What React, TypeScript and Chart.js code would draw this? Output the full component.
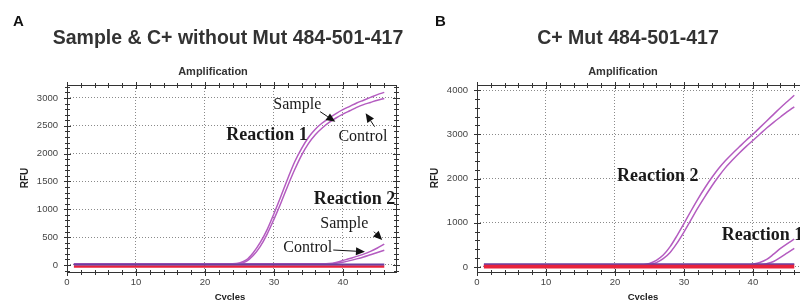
import React, { useEffect, useRef } from 'react';
import { Chart, registerables } from 'chart.js';
Chart.register(...registerables);

// ---------- data ----------
const cycles = [1, 2, 3, 4, 5, 6, 7, 8, 9, 10, 11, 12, 13, 14, 15, 16, 17, 18, 19, 20, 21, 22, 23, 24, 25, 26, 27, 28, 29, 30, 31, 32, 33, 34, 35, 36, 37, 38, 39, 40, 41, 42, 43, 44, 45, 46];
const baselineCycles = [1, 46];

// Panel A
const aR1Sample = [20, 20, 20, 20, 20, 20, 20, 20, 20, 20, 20, 20, 20, 20, 20, 20, 20, 20, 20, 20, 20, 20, 20, 20, 35, 90, 220, 400, 630, 920, 1230, 1550, 1850, 2090, 2290, 2440, 2550, 2640, 2720, 2790, 2850, 2910, 2960, 3010, 3060, 3100];
const aR1Control = [15, 15, 15, 15, 15, 15, 15, 15, 15, 15, 15, 15, 15, 15, 15, 15, 15, 15, 15, 15, 15, 15, 15, 15, 25, 65, 170, 330, 550, 820, 1110, 1420, 1710, 1970, 2180, 2340, 2460, 2560, 2640, 2710, 2770, 2830, 2880, 2920, 2960, 2990];
const aR2Sample = [20, 20, 20, 20, 20, 20, 20, 20, 20, 20, 20, 20, 20, 20, 20, 20, 20, 20, 20, 20, 20, 20, 20, 20, 20, 20, 20, 20, 20, 20, 20, 20, 20, 20, 20, 20, 20, 25, 45, 80, 115, 155, 195, 245, 305, 375];
const aR2Control = [15, 15, 15, 15, 15, 15, 15, 15, 15, 15, 15, 15, 15, 15, 15, 15, 15, 15, 15, 15, 15, 15, 15, 15, 15, 15, 15, 15, 15, 15, 15, 15, 15, 15, 15, 15, 15, 18, 30, 50, 78, 110, 145, 185, 225, 265];
const aBaseRed = [-25, -25];
const aBasePurple = [10, 10];

// Panel B
const bR2Upper = [30, 30, 30, 30, 30, 30, 30, 30, 30, 30, 30, 30, 30, 30, 30, 30, 30, 30, 30, 30, 30, 30, 30, 45, 80, 150, 270, 460, 710, 980, 1260, 1530, 1780, 2010, 2220, 2400, 2560, 2710, 2860, 3000, 3150, 3300, 3450, 3600, 3740, 3880];
const bR2Lower = [25, 25, 25, 25, 25, 25, 25, 25, 25, 25, 25, 25, 25, 25, 25, 25, 25, 25, 25, 25, 25, 25, 25, 25, 50, 100, 190, 330, 540, 790, 1060, 1330, 1580, 1820, 2040, 2240, 2410, 2570, 2720, 2860, 3000, 3140, 3270, 3390, 3510, 3620];
const bR1Upper = [30, 30, 30, 30, 30, 30, 30, 30, 30, 30, 30, 30, 30, 30, 30, 30, 30, 30, 30, 30, 30, 30, 30, 30, 30, 30, 30, 30, 30, 30, 30, 30, 30, 30, 30, 30, 30, 35, 45, 65, 100, 170, 290, 420, 530, 630];
const bR1Lower = [25, 25, 25, 25, 25, 25, 25, 25, 25, 25, 25, 25, 25, 25, 25, 25, 25, 25, 25, 25, 25, 25, 25, 25, 25, 25, 25, 25, 25, 25, 25, 25, 25, 25, 25, 25, 25, 25, 25, 30, 45, 75, 125, 220, 320, 420];
const bBaseRed = [15, 15];
const bBasePurple = [70, 70];

// tick labels
const xTicks = [0, 10, 20, 30, 40];
const aYTicks = [0, 500, 1000, 1500, 2000, 2500, 3000];
const bYTicks = [0, 1000, 2000, 3000, 4000];
const xMinorStep = 2;
const aYMinorStep = 100;
const bYMinorStep = 200;

// annotations (data coordinates)
type Label = { text: string; x: number; y: number; bold: boolean; size: number; align: CanvasTextAlign };
type Arrow = { x1: number; y1: number; x2: number; y2: number };

const aLabels: Label[] = [
  { text: 'Sample', x: 33.4, y: 2874, bold: false, size: 16, align: 'center' },
  { text: 'Reaction 1', x: 29.0, y: 2335, bold: true, size: 18, align: 'center' },
  { text: 'Control', x: 42.9, y: 2294, bold: false, size: 16, align: 'center' },
  { text: 'Reaction 2', x: 41.7, y: 1186, bold: true, size: 18, align: 'center' },
  { text: 'Sample', x: 40.2, y: 737, bold: false, size: 16, align: 'center' },
  { text: 'Control', x: 34.9, y: 300, bold: false, size: 16, align: 'center' },
];
const aArrows: Arrow[] = [
  { x1: 36.7, y1: 2754, x2: 38.9, y2: 2574 },
  { x1: 44.6, y1: 2484, x2: 43.3, y2: 2725 },
  { x1: 44.5, y1: 598, x2: 45.7, y2: 449 },
  { x1: 38.6, y1: 269, x2: 43.2, y2: 239 },
];
const bLabels: Label[] = [
  { text: 'Reaction 2', x: 26.2, y: 2041, bold: true, size: 18, align: 'center' },
  { text: 'Reaction 1', x: 35.5, y: 723, bold: true, size: 18, align: 'left' },
];
const bArrows: Arrow[] = [];

// ---------- drawing ----------
const CURVE = '#b45cc0';
const RED = '#e8223c';
const VIOLET = '#6b3fa0';
const SANS = '"Liberation Sans", Arial, Helvetica, sans-serif';
const SERIF = '"Liberation Serif", "Times New Roman", serif';

function pts(xs: number[], ys: number[]) {
  return xs.map((x, i) => ({ x, y: ys[i] }));
}

type PanelCfg = {
  letter: string;
  letterX: number;
  title: string;
  titleX: number;
  subX: number;
  rfuX: number;
  cyclesX: number;
  yMin: number;
  yMax: number;
  yTicks: number[];
  yMinor: number;
  xMax: number;
  width: number;
  padRight: number;
  yAxisWidth: number;
  labels: Label[];
  arrows: Arrow[];
  datasets: any[];
};

function decorPlugin(cfg: PanelCfg) {
  return {
    id: 'decor',
    afterDraw(chart: any) {
      const ctx: CanvasRenderingContext2D = chart.ctx;
      const { left, right, top, bottom } = chart.chartArea;
      const xs = chart.scales.x;
      const ys = chart.scales.y;
      ctx.save();
      // header
      ctx.fillStyle = '#111';
      ctx.textAlign = 'left';
      ctx.textBaseline = 'alphabetic';
      ctx.font = `bold 15px ${SANS}`;
      ctx.fillText(cfg.letter, cfg.letterX, 26);
      ctx.fillStyle = '#333';
      ctx.textAlign = 'center';
      ctx.font = `bold 19.5px ${SANS}`;
      ctx.fillText(cfg.title, cfg.titleX, 43.5);
      ctx.font = `bold 11px ${SANS}`;
      ctx.fillText('Amplification', cfg.subX, 74.5);

      // border box
      ctx.strokeStyle = '#333';
      ctx.lineWidth = 1;
      ctx.strokeRect(Math.round(left) + 0.5, Math.round(top) + 0.5, Math.round(right - left), Math.round(bottom - top));

      // ticks (major + minor, on all four sides)
      ctx.beginPath();
      for (let v = 0; v <= cfg.xMax + 1e-9; v += xMinorStep) {
        const px = Math.round(xs.getPixelForValue(v)) + 0.5;
        const major = xTicks.includes(v);
        const l = major ? 3 : 2;
        ctx.moveTo(px, bottom - l); ctx.lineTo(px, bottom + l + 1);
        ctx.moveTo(px, top - l); ctx.lineTo(px, top + l + 1);
      }
      const y0 = Math.ceil(cfg.yMin / cfg.yMinor) * cfg.yMinor;
      for (let v = y0; v <= cfg.yMax; v += cfg.yMinor) {
        const py = Math.round(ys.getPixelForValue(v)) + 0.5;
        const major = cfg.yTicks.includes(v);
        const l = major ? 3 : 2;
        ctx.moveTo(left - l, py); ctx.lineTo(left + l + 1, py);
        ctx.moveTo(right - l, py); ctx.lineTo(right + l + 1, py);
      }
      ctx.stroke();

      // axis titles
      ctx.fillStyle = '#222';
      ctx.font = `bold 10px ${SANS}`;
      ctx.textBaseline = 'middle';
      ctx.save();
      ctx.translate(cfg.rfuX, 178);
      ctx.rotate(-Math.PI / 2);
      ctx.textAlign = 'center';
      ctx.fillText('RFU', 0, 0);
      ctx.restore();
      ctx.font = `bold 9.5px ${SANS}`;
      ctx.textAlign = 'center';
      ctx.fillText('Cycles', cfg.cyclesX, 297.5);

      // annotations
      ctx.fillStyle = '#1a1a1a';
      for (const a of cfg.labels) {
        ctx.font = `${a.bold ? 'bold ' : ''}${a.size}px ${SERIF}`;
        ctx.textAlign = a.align;
        ctx.textBaseline = 'middle';
        ctx.fillText(a.text, xs.getPixelForValue(a.x), ys.getPixelForValue(a.y));
      }
      ctx.strokeStyle = '#111';
      ctx.fillStyle = '#111';
      ctx.lineWidth = 1;
      for (const ar of cfg.arrows) {
        const x1 = xs.getPixelForValue(ar.x1), y1 = ys.getPixelForValue(ar.y1);
        const x2 = xs.getPixelForValue(ar.x2), y2 = ys.getPixelForValue(ar.y2);
        const ang = Math.atan2(y2 - y1, x2 - x1);
        const hl = 9, hw = 4;
        const bx = x2 - hl * Math.cos(ang), by = y2 - hl * Math.sin(ang);
        ctx.beginPath();
        ctx.moveTo(x1, y1); ctx.lineTo(bx, by);
        ctx.stroke();
        ctx.beginPath();
        ctx.moveTo(x2, y2);
        ctx.lineTo(bx + hw * Math.sin(ang), by - hw * Math.cos(ang));
        ctx.lineTo(bx - hw * Math.sin(ang), by + hw * Math.cos(ang));
        ctx.closePath();
        ctx.fill();
      }
      ctx.restore();
    },
  };
}

function buildConfig(cfg: PanelCfg): any {
  const tickFont = { family: SANS, size: 9.5 };
  return {
    type: 'line',
    data: { datasets: cfg.datasets },
    options: {
      animation: false,
      responsive: false,
      devicePixelRatio: 1,
      layout: { padding: { top: 85, right: cfg.padRight, left: 0, bottom: 0 } },
      plugins: { legend: { display: false }, tooltip: { enabled: false }, title: { display: false } },
      elements: { point: { radius: 0 } },
      scales: {
        x: {
          type: 'linear',
          min: 0,
          max: cfg.xMax,
          ticks: { padding: 5, font: tickFont, color: '#444', maxRotation: 0, autoSkip: false, callback: (v: any) => String(v) },
          grid: { color: '#8a8a8a', drawTicks: false, lineWidth: 1 },
          border: { display: false, dash: [1, 2] },
          afterBuildTicks: (s: any) => { s.ticks = xTicks.map((value) => ({ value })); },
          afterFit: (s: any) => { s.height = 28; },
        },
        y: {
          type: 'linear',
          min: cfg.yMin,
          max: cfg.yMax,
          ticks: { padding: 9, font: tickFont, color: '#444', autoSkip: false, callback: (v: any) => String(v) },
          grid: { color: '#8a8a8a', drawTicks: false, lineWidth: 1 },
          border: { display: false, dash: [1, 2] },
          afterBuildTicks: (s: any) => { s.ticks = cfg.yTicks.map((value) => ({ value })); },
          afterFit: (s: any) => { s.width = cfg.yAxisWidth; },
        },
      },
    },
    plugins: [decorPlugin(cfg)],
  };
}

function line(data: { x: number; y: number }[], color: string, width: number) {
  return { data, borderColor: color, borderWidth: width, pointRadius: 0, fill: false, cubicInterpolationMode: 'monotone' };
}

const panelA: PanelCfg = {
  letter: 'A', letterX: 13, title: 'Sample & C+ without Mut 484-501-417', titleX: 228, subX: 213,
  rfuX: 25.5, cyclesX: 230, yMin: -126, yMax: 3233, yTicks: aYTicks, yMinor: aYMinorStep, xMax: 47.7,
  width: 410, padRight: 14, yAxisWidth: 67, labels: aLabels, arrows: aArrows,
  datasets: [
    line(pts(baselineCycles, aBasePurple), VIOLET, 2),
    line(pts(baselineCycles, aBaseRed), RED, 2.5),
    line(pts(cycles, aR1Sample), CURVE, 1.5),
    line(pts(cycles, aR1Control), CURVE, 1.5),
    line(pts(cycles, aR2Sample), CURVE, 1.5),
    line(pts(cycles, aR2Control), CURVE, 1.5),
  ],
};

const panelB: PanelCfg = {
  letter: 'B', letterX: 35, title: 'C+ Mut 484-501-417', titleX: 228, subX: 223,
  rfuX: 35, cyclesX: 243, yMin: -113, yMax: 4113, yTicks: bYTicks, yMinor: bYMinorStep, xMax: 47.7,
  width: 420, padRight: 14, yAxisWidth: 77, labels: bLabels, arrows: bArrows,
  datasets: [
    line(pts(baselineCycles, bBasePurple), VIOLET, 1.5),
    line(pts(baselineCycles, bBaseRed), RED, 4.5),
    line(pts(cycles, bR2Upper), CURVE, 1.5),
    line(pts(cycles, bR2Lower), CURVE, 1.5),
    line(pts(cycles, bR1Upper), CURVE, 1.5),
    line(pts(cycles, bR1Lower), CURVE, 1.5),
  ],
};

function Panel({ cfg, left }: { cfg: PanelCfg; left: number }) {
  const ref = useRef<HTMLCanvasElement | null>(null);
  useEffect(() => {
    if (!ref.current) return;
    const chart = new Chart(ref.current, buildConfig(cfg));
    return () => chart.destroy();
  }, [cfg]);
  return (
    <canvas
      ref={ref}
      width={cfg.width}
      height={300}
      style={{ position: 'absolute', left, top: 0, width: cfg.width, height: 300 }}
    />
  );
}

export default function App() {
  return (
    <div style={{ position: 'absolute', left: 0, top: 0, width: 800, height: 300, overflow: 'hidden', background: '#fff' }}>
      <Panel cfg={panelA} left={0} />
      <Panel cfg={panelB} left={400} />
    </div>
  );
}
